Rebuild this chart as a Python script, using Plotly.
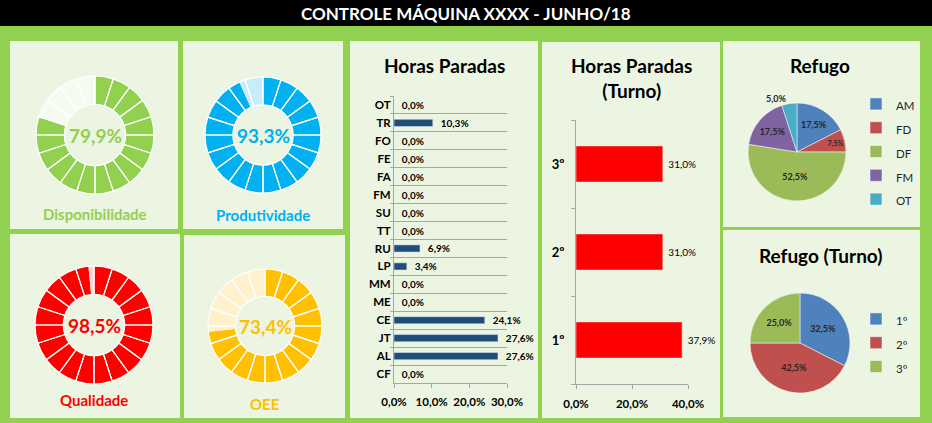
import plotly.graph_objects as go

W, H = 932, 423

title_text = "CONTROLE MÁQUINA XXXX - JUNHO/18"

# KPI donuts
kpi_names = ["Disponibilidade", "Produtividade", "Qualidade", "OEE"]
kpi_values = [79.9, 93.3, 98.5, 73.4]
kpi_colors = ["#92D050", "#00B0F0", "#FF0000", "#FFC000"]
kpi_light = ["#F6FBF1", "#C9ECFA", "#FFD1D1", "#FFF1CC"]
n_segments = 20

# Horas Paradas
stop_codes = ["OT", "TR", "FO", "FE", "FA", "FM", "SU", "TT", "RU", "LP", "MM", "ME", "CE", "JT", "AL", "CF"]
stop_pct = [0.0, 10.3, 0.0, 0.0, 0.0, 0.0, 0.0, 0.0, 6.9, 3.4, 0.0, 0.0, 24.1, 27.6, 27.6, 0.0]

# Horas Paradas (Turno)
shifts = ["1º", "2º", "3º"]
shift_stop_pct = [37.9, 31.0, 31.0]

# Refugo
scrap_codes = ["AM", "FD", "DF", "FM", "OT"]
scrap_pct = [17.5, 7.5, 52.5, 17.5, 5.0]
scrap_colors = ["#4F81BD", "#C0504D", "#9BBB59", "#8064A2", "#4BACC6"]

# Refugo (Turno)
shift_scrap_pct = [32.5, 42.5, 25.0]
shift_scrap_colors = ["#4F81BD", "#C0504D", "#9BBB59"]

FONT = "Lato"
BG_GREEN = "#92D050"
PANEL = "#EBF5E1"
GRID = "#A6A6A6"
NBSP = "\u00a0"


def fx(x):
    return x / W


def fy(y):
    return 1 - y / H


def pct(v):
    return f"{v:.1f}%".replace(".", ",")


def legend_label(s):
    return f"<span style='font-size:11.5px'>{s}</span>"


fig = go.Figure()

# ---- KPI donuts ----
donut_geo = [(95, 135, 59), (263, 135, 58), (94, 325, 59), (265, 326, 57)]
label_pos = [(95, 214), (263, 215), (94, 400), (265, 404)]
annotations = []
for name, val, col, light, (cx, cy, r), (lx, ly) in zip(kpi_names, kpi_values, kpi_colors,
                                                         kpi_light, donut_geo, label_pos):
    dom = dict(x=[fx(cx - r), fx(cx + r)], y=[fy(cy + r), fy(cy - r)])
    fig.add_trace(go.Pie(
        values=[val, 100 - val], labels=[name + " ", name + "  "],
        marker=dict(colors=[col, light], line=dict(width=0)),
        hole=0.52, sort=False, direction="clockwise", rotation=0,
        textinfo="none", hoverinfo="skip", showlegend=False, domain=dom))
    fig.add_trace(go.Pie(
        values=[1] * n_segments, labels=[f"{name}-seg{i}" for i in range(n_segments)],
        marker=dict(colors=["rgba(0,0,0,0)"] * n_segments, line=dict(color="white", width=1.2)),
        hole=0.52, sort=False, direction="clockwise", rotation=0,
        textinfo="none", hoverinfo="skip", showlegend=False, domain=dom))
    annotations.append(dict(x=fx(cx), y=fy(cy), text=pct(val),
                            font=dict(family=FONT, size=19, color=col, weight="bold")))
    annotations.append(dict(x=fx(lx), y=fy(ly), text=name,
                            font=dict(family=FONT, size=15, color=col, weight="bold")))

# ---- Horas Paradas bars ----
fig.add_trace(go.Bar(
    x=stop_pct, y=stop_codes, orientation="h", marker=dict(color="#1F4E79"),
    width=0.4, text=[NBSP * 2 + pct(v) for v in stop_pct], textposition="outside",
    constraintext="none",
    textfont=dict(family=FONT, size=10, color="black", weight="bold"),
    cliponaxis=False, showlegend=False, xaxis="x", yaxis="y", hoverinfo="x+y"))

# ---- Horas Paradas (Turno) bars ----
fig.add_trace(go.Bar(
    x=shift_stop_pct, y=shifts, orientation="h", marker=dict(color="#FF0000"),
    width=0.41, text=[NBSP + pct(v) for v in shift_stop_pct], textposition="outside",
    constraintext="none",
    textfont=dict(family=FONT, size=10, color="black"),
    cliponaxis=False, showlegend=False, xaxis="x2", yaxis="y2", hoverinfo="x+y"))

# ---- Refugo pie ----
fig.add_trace(go.Pie(
    labels=[legend_label(s) for s in scrap_codes], values=scrap_pct, sort=False,
    direction="clockwise", rotation=0,
    marker=dict(colors=scrap_colors, line=dict(color="white", width=0.5)),
    text=[pct(v) for v in scrap_pct], textinfo="text",
    textposition=["inside", "inside", "inside", "inside", "outside"],
    insidetextorientation="horizontal",
    textfont=dict(family=FONT, size=9, color="#262626", weight="bold"),
    domain=dict(x=[fx(748), fx(846)], y=[fy(201), fy(103)]),
    legend="legend", showlegend=True, hoverinfo="skip"))

# ---- Refugo (Turno) pie ----
fig.add_trace(go.Pie(
    labels=[legend_label(s) for s in shifts], values=shift_scrap_pct, sort=False,
    direction="clockwise", rotation=0,
    marker=dict(colors=shift_scrap_colors, line=dict(color="white", width=0.5)),
    text=[pct(v) for v in shift_scrap_pct], textinfo="text", textposition="inside",
    insidetextorientation="horizontal",
    textfont=dict(family=FONT, size=9, color="#262626", weight="bold"),
    domain=dict(x=[fx(750), fx(850)], y=[fy(393), fy(293)]),
    legend="legend2", showlegend=True, hoverinfo="skip"))

# ---- panels ----
shapes = [dict(type="rect", xref="paper", yref="paper", x0=0, x1=1, y0=fy(26), y1=1,
               fillcolor="black", line=dict(width=0), layer="below")]
panels = [(10, 41, 178, 229), (183, 41, 343, 229), (10, 234, 180, 418), (184, 235, 345, 418),
          (350, 41, 538, 418), (542, 42, 720, 418), (723, 41, 920, 227), (723, 230, 920, 417)]
for x0, y0, x1, y1 in panels:
    shapes.append(dict(type="rect", xref="paper", yref="paper", x0=fx(x0), x1=fx(x1),
                       y0=fy(y1), y1=fy(y0), fillcolor=PANEL, line=dict(width=0), layer="below"))

# titles
annotations += [
    dict(x=0.5, y=fy(13), text=title_text, font=dict(family=FONT, size=17, color="white", weight="bold")),
    dict(x=fx(444), y=fy(65), text="Horas Paradas", font=dict(family=FONT, size=19, color="black", weight="bold")),
    dict(x=fx(631), y=fy(78), text="Horas Paradas<br>(Turno)", font=dict(family=FONT, size=19, color="black", weight="bold")),
    dict(x=fx(820), y=fy(65), text="Refugo", font=dict(family=FONT, size=19, color="black", weight="bold")),
    dict(x=fx(820), y=fy(255), text="Refugo (Turno)", font=dict(family=FONT, size=19, color="black", weight="bold")),
]
for a in annotations:
    a.update(xref="paper", yref="paper", showarrow=False, xanchor="center", yanchor="middle")

axis_font = dict(family=FONT, size=11.5, color="black", weight="bold")

fig.update_layout(
    width=W, height=H, margin=dict(l=0, r=0, t=0, b=0, autoexpand=False),
    paper_bgcolor=BG_GREEN, plot_bgcolor="white",
    separators=",.",
    font=dict(family=FONT),
    shapes=shapes, annotations=annotations,
    xaxis=dict(domain=[fx(394), fx(507)], range=[0, 30], dtick=10, tickformat=".1f", ticksuffix="%",
               showgrid=False, zeroline=False, showline=True, linecolor=GRID, ticks="outside",
               ticklen=4, tickcolor=GRID, tickfont=axis_font, ticklabelstandoff=4,
               anchor="y", fixedrange=True),
    yaxis=dict(domain=[fy(383), fy(96)], type="category", autorange="reversed",
               showgrid=True, gridcolor=GRID, gridwidth=1, tickson="boundaries", ticks="outside",
               ticklen=3, tickcolor=GRID, showline=True, linecolor=GRID, tickfont=axis_font,
               anchor="x", fixedrange=True),
    xaxis2=dict(domain=[fx(576), fx(688)], range=[0, 40], dtick=20, tickformat=".1f", ticksuffix="%",
                showgrid=False, zeroline=False, showline=True, linecolor=GRID, ticks="outside",
                ticklen=4, tickcolor=GRID, tickfont=axis_font, ticklabelstandoff=5,
                anchor="y2", fixedrange=True),
    yaxis2=dict(domain=[fy(384), fy(120)], type="category", showgrid=False, tickson="boundaries",
                ticks="outside", ticklen=4, tickcolor=GRID, showline=True, linecolor=GRID,
                tickfont=dict(family=FONT, size=13, color="black", weight="bold"),
                ticklabelstandoff=8, anchor="x2", fixedrange=True),
    legend=dict(x=fx(856), y=fy(87), xanchor="left", yanchor="top", bgcolor="rgba(0,0,0,0)",
                font=dict(family=FONT, size=16, color="#262626")),
    legend2=dict(x=fx(856), y=fy(302), xanchor="left", yanchor="top", bgcolor="rgba(0,0,0,0)",
                 font=dict(family=FONT, size=16, color="#262626")),
)

fig.write_html("out.html", config={"displayModeBar": False},
               post_script="document.body.style.margin='0';")
